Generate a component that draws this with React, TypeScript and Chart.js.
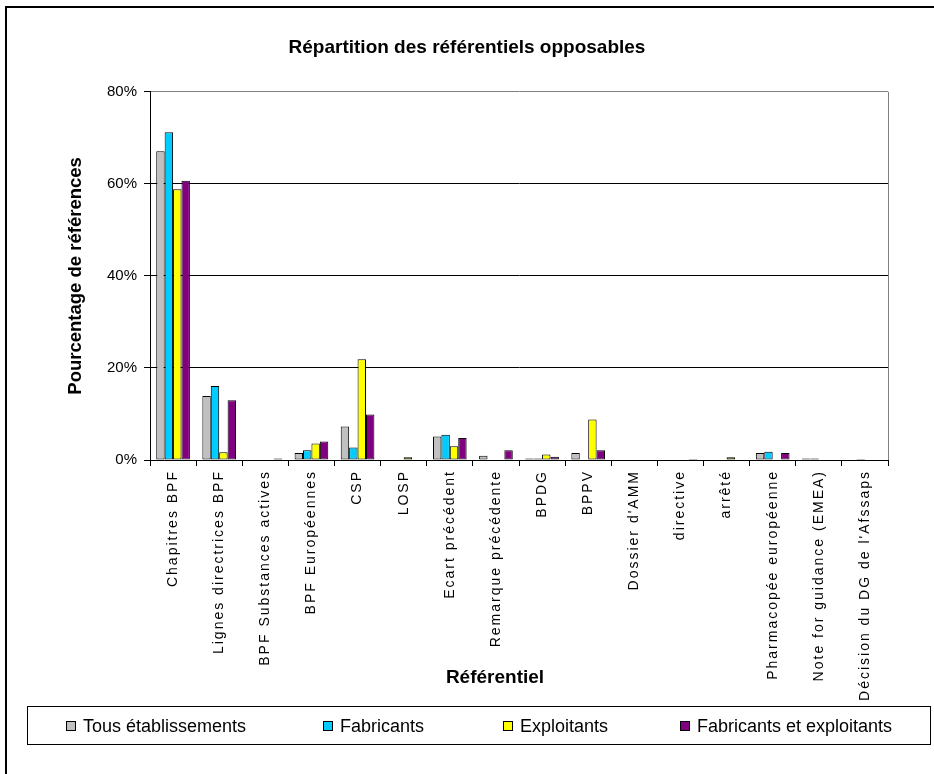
import React, { useEffect, useRef } from 'react';
import { Chart, registerables } from 'chart.js';

Chart.register(...registerables);

const chartTitle = 'Répartition des référentiels opposables';
const yAxisTitle = 'Pourcentage de références';
const xAxisTitle = 'Référentiel';

const categories = [
  'Chapitres BPF',
  'Lignes directrices BPF',
  'BPF Substances actives',
  'BPF Européennes',
  'CSP',
  'LOSP',
  'Ecart précédent',
  'Remarque précédente',
  'BPDG',
  'BPPV',
  "Dossier d'AMM",
  'directive',
  'arrêté',
  'Pharmacopée européenne',
  'Note for guidance (EMEA)',
  "Décision du DG de l'Afssaps",
];

const seriesNames = ['Tous établissements', 'Fabricants', 'Exploitants', 'Fabricants et exploitants'];

const tousEtablissements = [67.1, 13.9, 0, 1.5, 7.3, 0, 5.1, 0.9, 0.3, 1.5, 0, 0, 0, 1.5, 0.3, 0];
const fabricants = [71.2, 16.1, 0, 2.1, 2.7, 0, 5.5, 0, 0.3, 0, 0, 0, 0, 1.8, 0.3, 0.2];
const exploitants = [58.8, 1.7, 0, 3.6, 21.9, 0.6, 3.0, 0, 1.2, 8.8, 0, 0, 0.6, 0, 0, 0];
const fabricantsEtExploitants = [60.7, 13.0, 0.3, 4.0, 9.9, 0, 4.8, 2.1, 0.7, 2.1, 0, 0.2, 0, 1.5, 0, 0];

const seriesColors = ['#C0C0C0', '#00CCFF', '#FFFF00', '#800080'];

const yMin = 0;
const yMax = 80;
const yStep = 20;

const FONT = '"Liberation Sans", Arial, sans-serif';

export default function App() {
  const canvasRef = useRef<HTMLCanvasElement>(null);

  useEffect(() => {
    const canvas = canvasRef.current;
    if (!canvas) return;

    const legendXs = [66, 323, 503, 680];

    const decor = {
      id: 'decor',
      beforeDraw(chart: any) {
        const { ctx, width, height } = chart;
        ctx.save();
        ctx.fillStyle = '#ffffff';
        ctx.fillRect(0, 0, width, height);
        ctx.restore();
        const sx = chart.scales.x;
        if (sx && !sx.__spaced) {
          const orig = sx.drawLabels.bind(sx);
          sx.drawLabels = (area: any) => {
            const c = chart.ctx;
            c.save();
            c.letterSpacing = '2px';
            orig(area);
            c.restore();
          };
          sx.__spaced = true;
        }
      },
      afterDraw(chart: any) {
        const { ctx, chartArea: ca } = chart;
        ctx.save();
        // right border of plot area
        ctx.strokeStyle = '#808080';
        ctx.lineWidth = 1;
        const rx = Math.round(ca.right) + 0.5;
        ctx.beginPath();
        ctx.moveTo(rx, ca.top);
        ctx.lineTo(rx, ca.bottom);
        ctx.stroke();

        // outer frame (partial, cropped)
        ctx.strokeStyle = '#000000';
        ctx.lineWidth = 2;
        ctx.beginPath();
        ctx.moveTo(6, 774);
        ctx.lineTo(6, 7);
        ctx.lineTo(934, 7);
        ctx.stroke();

        // x axis title
        ctx.fillStyle = '#000000';
        ctx.font = `bold 19px ${FONT}`;
        ctx.textAlign = 'center';
        ctx.textBaseline = 'middle';
        ctx.fillText(xAxisTitle, 495, 678);

        // legend box
        ctx.lineWidth = 1;
        ctx.strokeStyle = '#000000';
        ctx.strokeRect(27.5, 706.5, 903, 38);

        ctx.font = `18px ${FONT}`;
        ctx.textAlign = 'left';
        chart.data.datasets.forEach((ds: any, i: number) => {
          const x = legendXs[i];
          ctx.fillStyle = ds.backgroundColor;
          ctx.fillRect(x, 721, 10, 10);
          ctx.strokeStyle = '#000000';
          ctx.strokeRect(x + 0.5, 721.5, 9, 9);
          ctx.fillStyle = '#000000';
          ctx.fillText(ds.label, x + 17, 727);
        });
        ctx.restore();
      },
    };

    const datasetValues = [tousEtablissements, fabricants, exploitants, fabricantsEtExploitants];

    const chart = new Chart(canvas, {
      type: 'bar',
      data: {
        labels: categories,
        datasets: datasetValues.map((vals, i) => ({
          label: seriesNames[i],
          data: vals,
          backgroundColor: seriesColors[i],
          borderColor: '#000000',
          borderWidth: (c: any) => (c.raw > 0 ? 1 : 0),
          borderSkipped: false,
          categoryPercentage: 0.73,
          barPercentage: 1.0,
        })),
      },
      options: {
        responsive: false,
        animation: false,
        devicePixelRatio: 1,
        layout: { padding: { left: 46, right: 46, top: 7, bottom: 0 } },
        plugins: {
          legend: { display: false },
          tooltip: { enabled: false },
          title: {
            display: true,
            text: chartTitle,
            color: '#000000',
            font: { family: FONT, size: 19, weight: 'bold' },
            padding: { top: 29, bottom: 33 },
          },
        },
        scales: {
          x: {
            offset: true,
            grid: {
              display: true,
              offset: true,
              drawOnChartArea: false,
              drawTicks: true,
              tickLength: 6,
              tickColor: '#000000',
              color: '#000000',
            },
            border: { display: true, color: '#000000', width: 1 },
            ticks: {
              autoSkip: false,
              maxRotation: 90,
              minRotation: 90,
              color: '#000000',
              padding: 4,
              font: { family: FONT, size: 14 },
            },
            afterFit: (scale: any) => {
              scale.height = 314;
            },
          },
          y: {
            min: yMin,
            max: yMax,
            ticks: {
              stepSize: yStep,
              color: '#000000',
              padding: 7,
              font: { family: FONT, size: 15 },
              callback: (v: any) => `${v}%`,
            },
            grid: {
              color: (c: any) => (c.tick && c.tick.value === yMax ? '#808080' : '#000000'),
              tickColor: '#000000',
              tickLength: 6,
              lineWidth: 1,
            },
            border: { display: true, color: '#000000', width: 1 },
            title: {
              display: true,
              text: yAxisTitle,
              color: '#000000',
              font: { family: FONT, size: 18.5, weight: 'bold' },
              padding: { top: 19, bottom: 0 },
            },
            afterFit: (scale: any) => {
              scale.width = 104;
            },
          },
        },
      },
      plugins: [decor],
    } as any);

    chart.draw();

    return () => chart.destroy();
  }, []);

  return (
    <div style={{ position: 'fixed', left: 0, top: 0, width: 934, height: 774, background: '#ffffff' }}>
      <canvas ref={canvasRef} width={934} height={774} style={{ display: 'block', width: 934, height: 774 }} />
    </div>
  );
}
